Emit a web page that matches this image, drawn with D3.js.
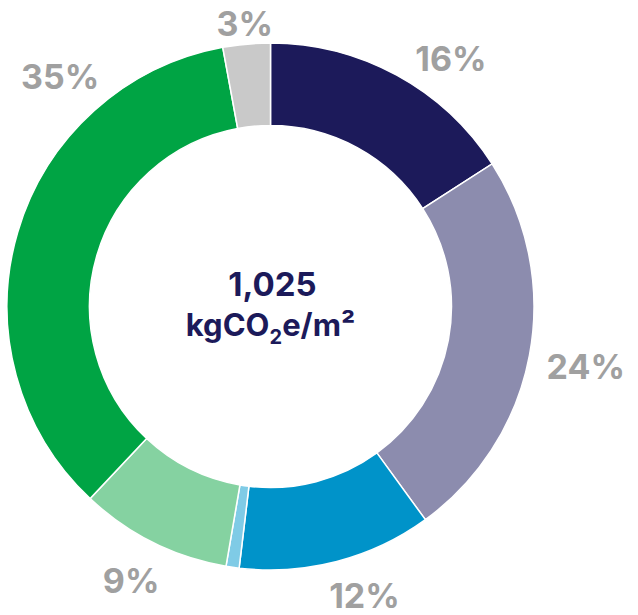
<!DOCTYPE html>
<html><head><meta charset="utf-8">
<script src="https://cdn.jsdelivr.net/npm/d3@7"></script>
<style>html,body{margin:0;padding:0;background:#fff;}svg{display:block;}</style>
</head><body>
<svg id="chart" width="638" height="615"></svg>
<script>
// Data
const categories = ["A","B","C","D","E","F","G"];
const values = [15.9, 24.1, 11.9, 0.8, 9.3, 35.1, 2.9];
const labels = ["16%","24%","12%","","9%","35%","3%"];
const colors = ["#1c1a5a","#8c8cae","#0093c9","#7fcbe6","#85d2a1","#00a444","#c9c9c9"];
const centerValue = "1,025";

// Layout (label placement: polar angle in degrees, radius)
const labelAngle = [36, 100.8, 162, 0, 207, 317.6, 354.8];
const labelRadius = [307, 321, 304, 0, 307, 312, 284];

const cx = 270.5, cy = 306.5, rOuter = 263.5, rInner = 181;
const svg = d3.select("#chart");
const g = svg.append("g").attr("transform", `translate(${cx},${cy})`);

const pie = d3.pie().sort(null).value(d => d)(values);
const arc = d3.arc().innerRadius(rInner).outerRadius(rOuter);

g.selectAll("path.slice").data(pie).enter().append("path")
  .attr("class","slice")
  .attr("d", arc)
  .attr("fill", (d,i) => colors[i])
  .attr("stroke", "#fff")
  .attr("stroke-width", 1.5);

g.selectAll("text.lbl").data(pie).enter().filter((d,i)=>labels[i]!=="").append("text")
  .attr("class","lbl")
  .attr("x", (d) => labelRadius[d.index] * Math.sin(labelAngle[d.index]*Math.PI/180))
  .attr("y", (d) => -labelRadius[d.index] * Math.cos(labelAngle[d.index]*Math.PI/180))
  .attr("text-anchor","middle")
  .attr("dominant-baseline","central")
  .attr("font-family","Inter, 'Liberation Sans', Arial, sans-serif")
  .attr("font-weight","700")
  .attr("font-size", 34)
  .attr("fill","#a0a0a0")
  .text((d) => labels[d.index]);

const ct = g.append("text").attr("text-anchor","middle")
  .attr("font-family","Inter, 'Liberation Sans', Arial, sans-serif")
  .attr("font-weight","700").attr("fill","#1c1a5a");
ct.append("tspan").attr("x", 2).attr("y", -11).attr("font-size", 33).text(centerValue);
const t2 = g.append("text").attr("text-anchor","middle").attr("x", 0).attr("y", 29)
  .attr("font-family","Inter, 'Liberation Sans', Arial, sans-serif")
  .attr("font-weight","700").attr("fill","#1c1a5a").attr("font-size", 31);
t2.append("tspan").text("kgCO");
t2.append("tspan").attr("font-size", 20).attr("dy", 8).text("2");
t2.append("tspan").attr("dy", -8).text("e/m²");
</script>
</body></html>
